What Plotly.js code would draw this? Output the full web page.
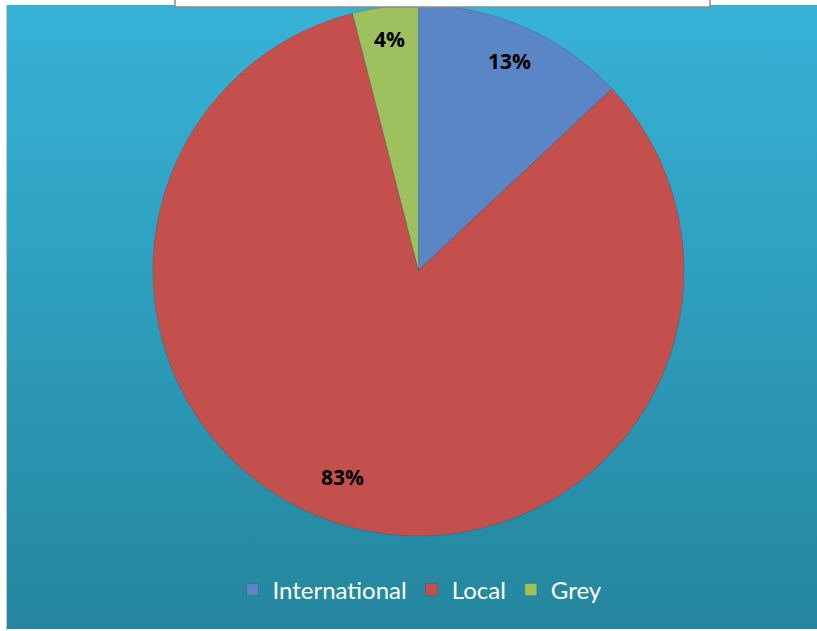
<!DOCTYPE html>
<html>
<head>
<meta charset="utf-8">
<script src="https://cdn.plot.ly/plotly-3.0.1.min.js"></script>
<style>
  html, body { margin: 0; padding: 0; background: #ffffff; }
  #chart {
    width: 817px; height: 631px;
    background: linear-gradient(#37b2d7, #24869e) 7px 5px / 810px 624px no-repeat, #ffffff;
  }
</style>
</head>
<body>
<div id="chart"></div>
<script>
const categories = ["International", "Local", "Grey"];
const values = [13, 83, 4];
const labelsText = ["13%", "83%", "4%"];
const colors = ["#5a86c5", "#c4504e", "#9ec05f"];

const W = 817, H = 631;
const cx = 418.5, cy = 270.5, R = 265.5;

// label annotations placed along each slice's mid-angle (computed from values)
const total = values.reduce((a, b) => a + b, 0);
const annotations = [];
let acc = 0;
const radFrac = [0.86, 0.83, 0.88];
const angShift = [0, 0.07, 0];
values.forEach((v, i) => {
  const mid = (acc + v / 2) / total * 2 * Math.PI + angShift[i];
  acc += v;
  const r = R * radFrac[i];
  const px = cx + r * Math.sin(mid);
  const py = cy - r * Math.cos(mid);
  annotations.push({
    text: "<b>" + labelsText[i] + "</b>",
    x: px / W, y: 1 - py / H, xref: "paper", yref: "paper",
    showarrow: false, xanchor: "center", yanchor: "middle",
    font: { family: "Open Sans, sans-serif", size: 21, color: "#000000" }
  });
});

const data = [{
  type: "pie",
  labels: categories,
  values: values,
  sort: false,
  direction: "clockwise",
  rotation: 0,
  textinfo: "none",
  hoverinfo: "label+percent",
  marker: { colors: colors, line: { width: 0.6, color: "rgba(40,40,40,0.3)" } },
  domain: { x: [153 / W, 684 / W], y: [1 - 536 / H, 1 - 5 / H] }
}];

const layout = {
  width: W, height: H,
  margin: { l: 0, r: 0, t: 0, b: 0 },
  paper_bgcolor: "rgba(0,0,0,0)",
  plot_bgcolor: "rgba(0,0,0,0)",
  showlegend: true,
  legend: {
    orientation: "h",
    x: 0.514, xanchor: "center",
    y: 1 - 590 / H, yanchor: "middle",
    font: { family: "Lato, sans-serif", size: 24, color: "#ffffff" },
    bgcolor: "rgba(0,0,0,0)",
    itemwidth: 30,
    traceorder: "normal"
  },
  annotations: annotations,
  shapes: [
    { type: "rect", xref: "paper", yref: "paper",
      x0: 175 / W, x1: 710 / W, y0: 1 - 7 / H, y1: 1.01,
      fillcolor: "#ffffff", line: { color: "#8a8a8a", width: 1.5 }, layer: "above" },
    { type: "line", xref: "paper", yref: "paper",
      x0: 6.5 / W, x1: 6.5 / W, y0: 0, y1: 1 - 5 / H,
      line: { color: "#c8c8c8", width: 1 } }
  ]
};

Plotly.newPlot("chart", data, layout, { displayModeBar: false, staticPlot: true });
</script>
</body>
</html>
